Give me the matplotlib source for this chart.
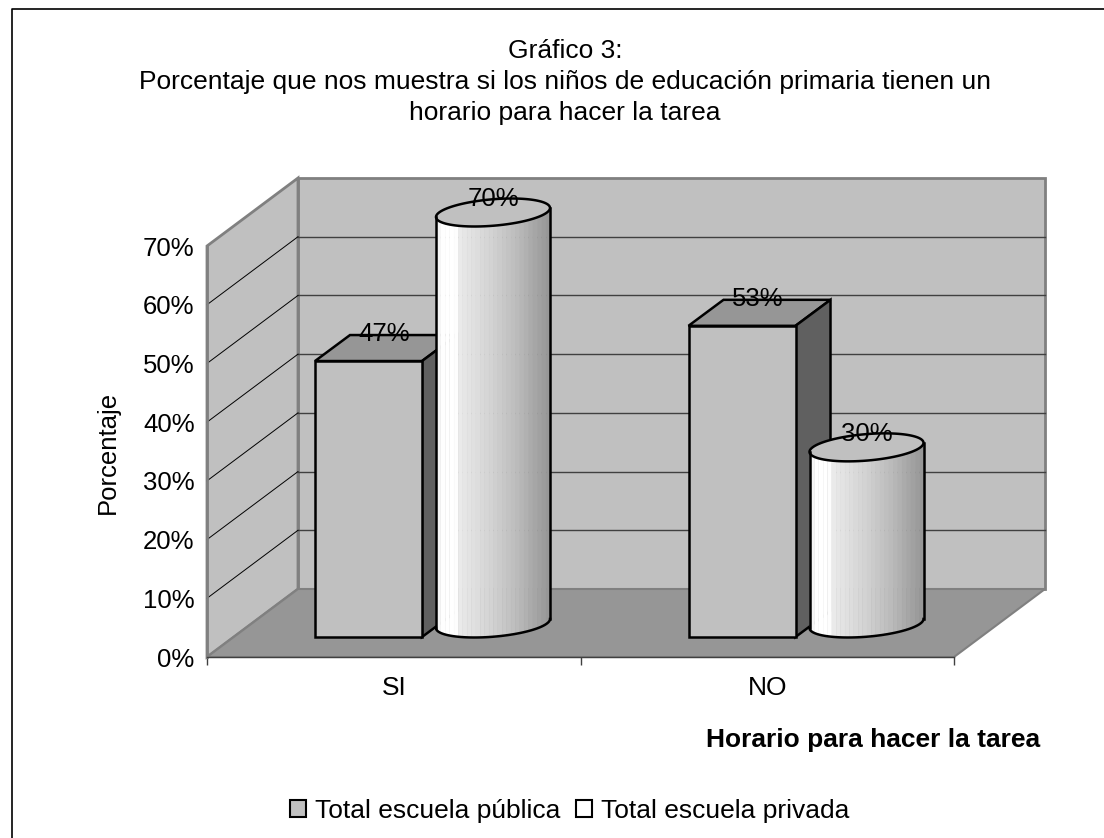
import numpy as np
import matplotlib
matplotlib.use("Agg")
import matplotlib.pyplot as plt
from matplotlib.lines import Line2D
from matplotlib.patches import Patch

plt.rcParams['font.family'] = ['Liberation Sans', 'DejaVu Sans']

# Datos
categorias = ["SI", "NO"]
publica = [47, 53]
privada = [70, 30]
ticks_y = [0, 10, 20, 30, 40, 50, 60, 70]
nombres_serie = ["Total escuela pública", "Total escuela privada"]
titulo = ("Gráfico 3:\n"
          "Porcentaje que nos muestra si los niños de educación primaria tienen un\n"
          "horario para hacer la tarea")

# Figura y ejes, medidos en pixeles sobre la imagen
W, H = 1104, 838
fig = plt.figure(figsize=(W / 100, H / 100), dpi=100, facecolor="white")
ax = fig.add_axes([207 / W, (H - 657) / H, 747 / W, 411 / H])
ax.set_xlim(0, 2)
ax.set_ylim(0, 70)
ax.patch.set_visible(False)

# conversion de pixeles a unidades de datos
PX = 1 / 373.5
PY = 70 / 411
DX, DY = 91 * PX, 68 * PY  # profundidad de la caja 3D

GRIS_BORDE = "#808080"
GRIS_PARED = "#c0c0c0"
GRIS_PISO = "#969696"
FS = 19
LW = 1.8

# Paredes y piso
ax.fill([DX, 2 + DX, 2 + DX, DX], [DY, DY, 70 + DY, 70 + DY], fc=GRIS_PARED, ec=GRIS_BORDE,
        lw=2, clip_on=False, zorder=1)
ax.fill([0, DX, DX, 0], [0, DY, 70 + DY, 70], fc=GRIS_PARED, ec=GRIS_BORDE, lw=2, clip_on=False, zorder=1)
ax.fill([0, 2, 2 + DX, DX], [0, 0, DY, DY], fc=GRIS_PISO, ec=GRIS_BORDE, lw=1.5, clip_on=False, zorder=1.2)

for t in ticks_y[1:-1]:
    ax.plot([DX, 2 + DX], [t + DY, t + DY], color="#404040", lw=1, clip_on=False, zorder=1.1)
    ax.plot([0, DX], [t, t + DY], color="black", lw=0.7, clip_on=False, zorder=1.1)

# Barras de escuela publica (cajas)
box_left, box_w = 108 * PX, 107 * PX
box_base = 20 * PY
box_dx, box_dy = 35 * PX, 26 * PY
for i, v in enumerate(publica):
    x0 = i + box_left
    x1 = x0 + box_w
    y1 = box_base + v
    ax.fill([x0, x1, x1 + box_dx, x0 + box_dx], [y1, y1, y1 + box_dy, y1 + box_dy],
            fc=GRIS_PISO, ec="black", lw=LW, clip_on=False, zorder=3)
    ax.fill([x1, x1 + box_dx, x1 + box_dx, x1], [box_base, box_base + box_dy, y1 + box_dy, y1],
            fc="#606060", ec="black", lw=LW, clip_on=False, zorder=3)
    ax.bar(x0 + box_w / 2, v, box_w, bottom=box_base, fc=GRIS_PARED, ec="black", lw=LW, clip_on=False, zorder=3.1)
    ax.text(x0 + box_w / 2 + 16 * PX, y1 + 27 * PY, f"{v}%", ha="center", va="center", fontsize=18.5, zorder=10)

# Barras de escuela privada (cilindros)
cil_c = 286 * PX
cil_a = 57 * PX
cil_b = 14 * PY
cil_base = 33.5 * PY
fase = 0.33
pos_grises = [0, 0.06, 0.17, 0.2, 0.35, 0.5, 0.7, 0.85, 1]
val_grises = [0.94, 1, 1, 0.92, 0.87, 0.82, 0.74, 0.66, 0.58]


def arco(cx, t):
    return cx + cil_a * np.cos(t), cil_b * np.sin(t + fase)


for i, v in enumerate(privada):
    cx = i + cil_c
    # franjas verticales del cuerpo
    bordes = np.linspace(-1, 1, 27)
    for u0, u1 in zip(bordes[:-1], bordes[1:]):
        tt = 2 * np.pi - np.arccos(np.linspace(u0, u1, 6))
        xs, ys = arco(cx, tt)
        g = np.interp((u0 + u1 + 2) / 4, pos_grises, val_grises)
        ax.fill_between(xs, cil_base + ys, cil_base + v + ys, color=str(g), lw=0.3, clip_on=False, zorder=4)
    # tapa, borde inferior y lados
    t_all = np.linspace(0, 2 * np.pi, 200)
    xs, ys = arco(cx, t_all)
    ax.fill(xs, cil_base + v + ys, fc=GRIS_PARED, ec="black", lw=LW, clip_on=False, zorder=5)
    t_front = np.linspace(np.pi, 2 * np.pi, 100)
    xs, ys = arco(cx, t_front)
    ax.plot(xs, cil_base + ys, color="black", lw=LW, clip_on=False, zorder=5)
    ax.plot([xs[0], xs[0]], [cil_base + ys[0], cil_base + v + ys[0]], color="black", lw=LW, clip_on=False, zorder=5)
    ax.plot([xs[-1], xs[-1]], [cil_base + ys[-1], cil_base + v + ys[-1]], color="black", lw=LW, clip_on=False,
            zorder=5)
    ax.text(cx, cil_base + v + 13 * PY, f"{v}%", ha="center", va="center", fontsize=18.5, zorder=10)

# Ejes
ax.spines["top"].set_visible(False)
ax.spines["right"].set_visible(False)
ax.spines["left"].set_color(GRIS_BORDE)
ax.spines["left"].set_linewidth(2)
ax.spines["bottom"].set_color("#404040")
ax.spines["bottom"].set_linewidth(1)
ax.spines["bottom"].set_zorder(6)

ax.set_yticks(ticks_y)
ax.set_yticklabels([f"{t}%" for t in ticks_y], fontsize=18.5)
ax.tick_params(axis="y", length=0, pad=9)
ax.set_xticks([0.5, 1.5])
ax.set_xticklabels(categorias, fontsize=FS)
ax.set_xticks([0, 1, 2], minor=True)
ax.tick_params(axis="x", which="major", length=0, pad=14)
ax.tick_params(axis="x", which="minor", length=6, width=1, color="#404040")

ax.set_ylabel("Porcentaje", fontsize=18.5)
ax.yaxis.set_label_coords((108 - 207) / 747, (657 - 452) / 411)
ax.yaxis.label.set_va("center")
ax.set_xlabel("Horario para hacer la tarea", fontsize=FS, fontweight="bold", ha="right", va="center")
ax.xaxis.set_label_coords((1040 - 207) / 747, (657 - 740) / 411)

fig.suptitle(titulo, x=565 / W, y=1 - 82 / H, ha="center", va="center", fontsize=FS, linespacing=1.37)

# Leyenda
handles = [Patch(fc=GRIS_PARED, ec="black", lw=1.5), Patch(fc="white", ec="black", lw=1.5)]
fig.legend(handles, nombres_serie, loc="center", bbox_to_anchor=(569.5 / W, 1 - 811 / H), ncol=2, frameon=False,
           fontsize=FS, handlelength=0.62, handleheight=0.62, handletextpad=0.32, columnspacing=0.6,
           borderpad=0, borderaxespad=0)

# Marco de la imagen (solo izquierda y arriba)
fig.add_artist(Line2D([12 / W, 12 / W, 1], [0, 1 - 9 / H, 1 - 9 / H], color="black", lw=1.2))

fig.savefig("out.png", dpi=100)
